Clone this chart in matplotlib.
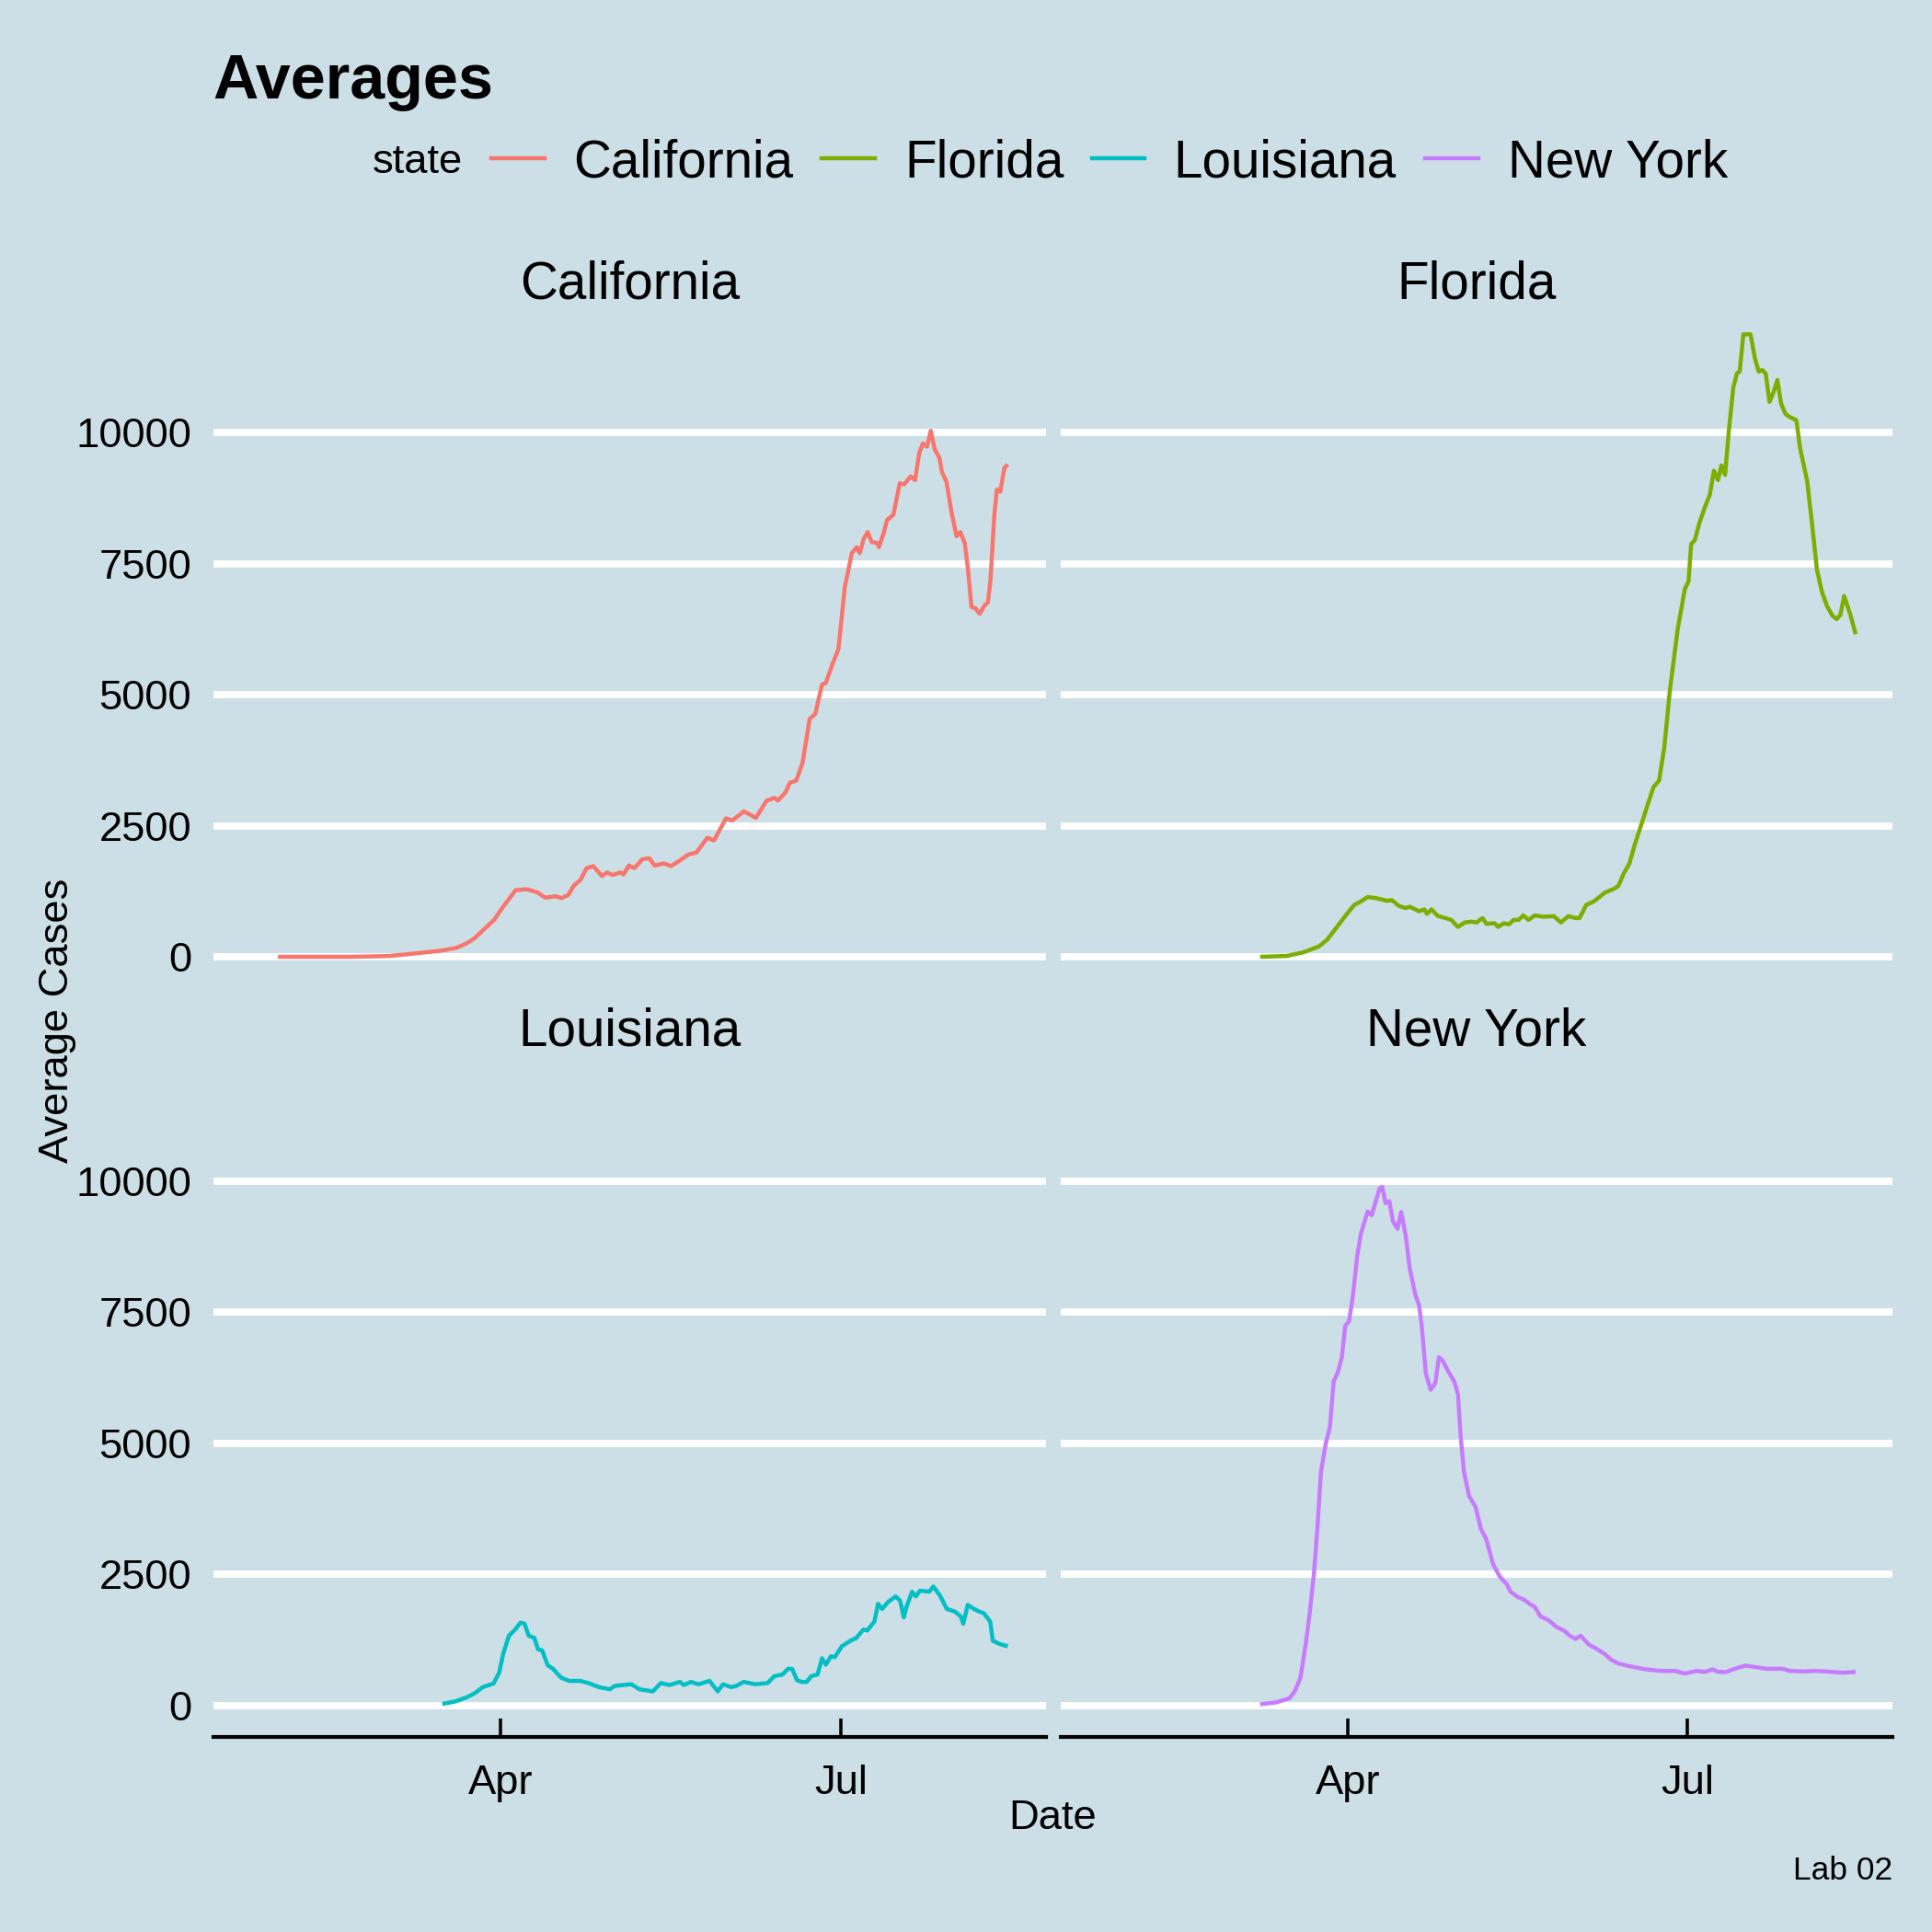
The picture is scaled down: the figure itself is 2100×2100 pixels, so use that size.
import numpy as np
import matplotlib
matplotlib.use("Agg")
import matplotlib.pyplot as plt
import matplotlib.dates as mdates
from matplotlib.lines import Line2D

plt.rcParams['font.family'] = ['Liberation Sans', 'DejaVu Sans']

# ---------------- data (day offset from 2020-04-01, 7-day average cases) ----
base_date = np.datetime64("2020-04-01")
states = ["California", "Florida", "Louisiana", "New York"]
colors = ["#F8766D", "#7CAE00", "#00BFC4", "#C77CFF"]

ca_day = [-59.6, -50, -40, -30, -24.9, -16.3, -11.9, -9.0, -6.9, -4.7, -1.8, 0.4, 4.0, 6.9,
          9.8, 11.9, 14.8, 16.3, 18.1, 19.6, 21.3, 23.0, 24.8, 27.1, 28.5, 29.9, 32.1, 32.9,
          34.3, 35.8, 37.9, 39.8, 41.2, 43.7, 45.6, 48.0, 50.2, 52.4, 55.3, 57.1, 60.3, 62.0,
          65.1, 68.3, 71.2, 73.3, 74.2, 76.2, 77.4, 79.1, 80.8, 82.7, 84.2, 86.0, 87.0, 88.9,
          90.4, 92.1, 94.0, 95.3, 96.1, 97.1, 98.2, 99.3, 100.8, 101.2, 102.5, 103.4, 105.1,
          106.8, 108.0, 109.7, 110.9, 112.0, 113.0, 114.1, 115.1, 116.2, 117.4, 118.1, 119.3,
          120.7, 122.0, 123.0, 124.2, 125.0, 126.0, 127.0, 128.2, 129.4, 130.4, 131.1, 132.1,
          132.8, 133.7, 134.8, 135.7]
ca_val = [0, 0, 0, 15, 50, 114, 170, 260, 360, 510, 700, 930, 1270, 1290,
          1230, 1130, 1155, 1120, 1180, 1360, 1460, 1690, 1730, 1540, 1610, 1560, 1610, 1570,
          1740, 1690, 1860, 1880, 1740, 1780, 1730, 1840, 1950, 1990, 2270, 2220, 2640, 2600,
          2775, 2650, 2980, 3030, 2980, 3130, 3320, 3360, 3700, 4540, 4630, 5190, 5220, 5600,
          5870, 7050, 7700, 7810, 7700, 7960, 8100, 7910, 7890, 7810, 8080, 8330, 8430,
          9030, 9010, 9160, 9090, 9600, 9790, 9730, 10030, 9670, 9520, 9240, 9060,
          8460, 8020, 8100, 7890, 7430, 6670, 6650, 6540, 6690, 6760, 7200, 8420,
          8910, 8870, 9320, 9390]

fl_day = [-23.5, -16.3, -12.0, -7.7, -5.5, -2.6, -0.4, 1.7, 3.6, 5.3, 7.5, 10.4, 11.8, 13.7,
          15.5, 16.6, 19.1, 20.5, 21.2, 22.4, 24.1, 27.7, 29.5, 31.3, 33.1, 34.5, 36.1, 37.1,
          39.3, 40.3, 41.8, 43.2, 44.4, 45.8, 47.0, 48.4, 50.1, 52.3, 55.2, 57.1, 59.1, 61.0,
          62.1, 63.9, 66.0, 68.9, 71.1, 72.5, 74.0, 75.4, 76.9, 79.0, 80.5, 81.9, 83.4, 84.8,
          86.3, 88.4, 90.3, 91.3, 92.0, 93.0, 94.2, 95.6, 97.0, 98.1, 99.2, 100.1, 101.1,
          102.1, 103.3, 104.3, 105.0, 106.0, 107.9, 109.1, 110.1, 111.1, 112.0, 113.0, 114.0,
          115.1, 116.1, 117.3, 118.3, 120.2, 121.2, 123.1, 124.5, 125.7, 127.0, 128.4, 129.9,
          131.0, 132.0, 133.0, 134.6, 136.1]
fl_val = [0, 17, 84, 200, 330, 600, 805, 990, 1060, 1140, 1120, 1070, 1080, 970,
          930, 955, 870, 905, 820, 905, 780, 705, 570, 655, 670, 655, 740, 630,
          640, 570, 640, 620, 705, 705, 790, 705, 790, 765, 775, 655, 775, 740,
          740, 990, 1060, 1225, 1290, 1350, 1600, 1770, 2140, 2600, 2935, 3235, 3360, 3990,
          5080, 6250, 7010, 7160, 7870, 7950, 8270, 8560, 8810, 9270, 9090, 9370, 9190,
          10030, 10860, 11130, 11160, 11870, 11870, 11410, 11160, 11190, 11120, 10580, 10750,
          11000, 10550, 10350, 10300, 10230, 9700, 9070, 8190, 7390, 6970, 6690, 6500,
          6440, 6520, 6880, 6540, 6150]

la_day = [-15.6, -12.0, -9.1, -6.9, -4.8, -1.9, -0.4, 0.7, 2.2, 3.9, 5.3, 6.4, 7.5, 9.0,
          10.0, 11.1, 12.6, 14.0, 16.2, 18.3, 21.2, 23.4, 26.3, 29.2, 30.6, 35.0, 37.1, 40.7,
          42.9, 45.1, 48.0, 49.0, 50.9, 53.0, 55.9, 58.1, 59.5, 61.7, 63.1, 65.0, 68.2, 71.5,
          73.2, 75.4, 76.9, 78.0, 79.3, 80.5, 81.9, 83.1, 84.8, 86.0, 87.0, 88.4, 89.4, 91.3,
          93.5, 95.2, 97.1, 98.1, 100.0, 101.0, 102.1, 103.6, 105.7, 106.9, 107.9, 108.6,
          110.1, 111.1, 112.2, 114.7, 115.8, 117.7, 119.4, 121.6, 123.1, 123.8, 125.0, 126.7,
          128.1, 129.3, 131.0, 131.7, 133.6, 135.7]
la_val = [30, 80, 156, 235, 350, 420, 625, 990, 1330, 1450, 1580, 1560, 1330, 1290,
          1070, 1050, 765, 700, 530, 470, 470, 430, 350, 310, 375, 405, 310, 270,
          430, 390, 450, 390, 450, 405, 470, 270, 405, 350, 375, 450, 405, 430,
          560, 590, 700, 700, 485, 450, 450, 560, 590, 900, 780, 940, 920, 1130,
          1230, 1290, 1450, 1430, 1600, 1940, 1840, 1970, 2080, 2000, 1680, 1880,
          2170, 2080, 2190, 2170, 2270, 2080, 1840, 1790, 1700, 1560, 1920, 1840,
          1790, 1760, 1600, 1235, 1170, 1130]

ny_day = [-23.5, -19.2, -15.6, -14.2, -12.7, -11.3, -10.3, -9.1, -8.1, -7.2, -5.9, -4.8, -3.8,
          -2.6, -1.6, -0.7, 0.3, 1.3, 2.5, 3.5, 4.3, 5.3, 6.4, 7.5, 8.5, 9.2, 10.1, 11.1, 12.1,
          13.3, 14.3, 15.5, 16.6, 18.1, 19.1, 19.8, 20.9, 22.2, 23.4, 24.4, 25.3, 27.0, 28.5,
          29.5, 30.2, 31.1, 32.5, 34.2, 35.7, 37.1, 38.9, 40.7, 42.6, 43.6, 45.5, 47.2, 48.7,
          50.1, 51.6, 53.7, 55.9, 58.1, 59.5, 61.0, 62.4, 64.6, 66.7, 68.9, 70.4, 72.5, 76.1,
          79.7, 84.1, 87.7, 90.3, 93.5, 95.6, 97.8, 99.2, 101.4, 103.6, 106.5, 108.6, 112.2,
          116.6, 118.3, 122.4, 125.3, 128.1, 132.5, 136.1]
ny_val = [25, 60, 140, 275, 530, 1170, 1720, 2500, 3440, 4460, 5000, 5320, 6180,
          6370, 6650, 7240, 7320, 7780, 8570, 9000, 9190, 9420, 9350, 9620, 9860, 9890, 9580,
          9620, 9230, 9090, 9410, 8960, 8330, 7830, 7630, 7240, 6330, 6020, 6140, 6640, 6590,
          6360, 6180, 5940, 5160, 4460, 3990, 3790, 3360, 3170, 2700, 2460, 2310, 2170, 2070,
          2020, 1940, 1880, 1700, 1630, 1500, 1420, 1330, 1270, 1330, 1160, 1080, 980, 880,
          800, 740, 690, 660, 660, 610, 660, 640, 690, 640, 640, 700, 760, 740, 700,
          700, 660, 650, 660, 650, 625, 640]

series_days = [ca_day, fl_day, la_day, ny_day]
series_vals = [ca_val, fl_val, la_val, ny_val]

y_ticks = [0, 2500, 5000, 7500, 10000]
x_tick_dates = ["2020-04-01", "2020-07-01"]
x_tick_labels = ["Apr", "Jul"]

# ---------------- style ------------------------------------------------------
bg = "#cddfe6"
DPI = 300
fig = plt.figure(figsize=(7, 7), dpi=DPI, facecolor=bg)

def to_dates(days):
    ms = np.round(np.asarray(days) * 86400000).astype("int64").astype("timedelta64[ms]")
    return base_date.astype("datetime64[ms]") + ms

x_lo = mdates.date2num(np.datetime64("2020-04-01")) - 76.94
x_hi = mdates.date2num(np.datetime64("2020-07-01")) + 54.95
y_lo, y_hi = -596, 12456

positions = [
    [0.11033, 0.48857, 0.43110, 0.35429],
    [0.54905, 0.48857, 0.43048, 0.35429],
    [0.11033, 0.10105, 0.43110, 0.35428],
    [0.54905, 0.10105, 0.43048, 0.35428],
]
strip_y = [0.84571, 0.84571, 0.45871, 0.45871]

for i, (name, col) in enumerate(zip(states, colors)):
    ax = fig.add_axes(positions[i])
    ax.set_facecolor(bg)
    ax.plot(to_dates(series_days[i]), series_vals[i], color=col, lw=1.07,
            solid_joinstyle="round", solid_capstyle="butt", zorder=3)
    ax.set_xlim(x_lo, x_hi)
    ax.set_ylim(y_lo, y_hi)
    ax.set_yticks(y_ticks)
    ax.yaxis.grid(True, color="white", lw=1.87)
    ax.xaxis.grid(False)
    ax.set_axisbelow(True)
    for s in ["top", "right", "left"]:
        ax.spines[s].set_visible(False)
    bottom_row = i >= 2
    left_col = i % 2 == 0
    ax.set_xticks([mdates.date2num(np.datetime64(d)) for d in x_tick_dates])
    if bottom_row:
        ax.spines["bottom"].set_color("black")
        ax.spines["bottom"].set_linewidth(1.0)
        ax.set_xticklabels(x_tick_labels)
        ax.tick_params(axis="x", direction="in", length=4.8, width=0.85, color="black",
                       pad=7.3, labelsize=10.9, labelcolor="black")
    else:
        ax.spines["bottom"].set_visible(False)
        ax.tick_params(axis="x", length=0, labelbottom=False)
    if left_col:
        ax.set_yticklabels([str(v) for v in y_ticks])
        ax.tick_params(axis="y", length=0, pad=5.7, labelsize=10.9, labelcolor="black")
    else:
        ax.tick_params(axis="y", length=0, labelleft=False)
    # facet strip label
    cx = positions[i][0] + positions[i][2] / 2
    fig.text(cx, strip_y[i], name, ha="center", va="baseline", fontsize=13.6, color="black")

# title
fig.text(0.11033, 0.94905, "Averages", ha="left", va="baseline", fontsize=16.4,
         fontweight="bold", color="black")

# legend (drawn manually to mimic ggplot top legend)
fig.text(0.19259, 0.91032, "state", ha="left", va="baseline", fontsize=10.9, color="black")
key_x = [(0.25445, 0.28187), (0.42537, 0.45279), (0.56503, 0.59245), (0.73784, 0.76526)]
lab_x = [0.29653, 0.46810, 0.60712, 0.78058]
for (k0, k1), lx, name, col in zip(key_x, lab_x, states, colors):
    fig.add_artist(Line2D([k0, k1], [0.91794, 0.91794], transform=fig.transFigure,
                          color=col, lw=1.07))
    fig.text(lx, 0.9082, name, ha="left", va="baseline", fontsize=13.6, color="black")

# axis titles and caption
fig.text(0.5450, 0.05319, "Date", ha="center", va="baseline", fontsize=10.9, color="black")
fig.text(0.030, 0.4719, "Average Cases", ha="center", va="center", rotation=90,
         fontsize=10.9, color="black")
fig.text(0.97952, 0.02729, "Lab 02", ha="right", va="baseline", fontsize=8.5, color="black")

fig.savefig("out.png", dpi=DPI, facecolor=bg)
